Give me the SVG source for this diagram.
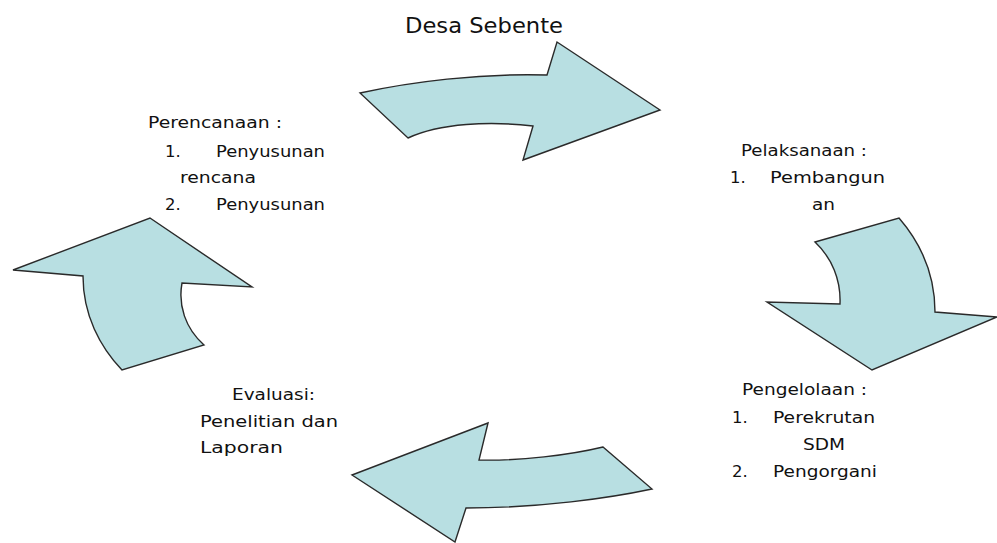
<svg xmlns="http://www.w3.org/2000/svg" width="997" height="543" viewBox="0 0 997 543">
  <style>
    .t { font-family: "DejaVu Sans", Verdana, sans-serif; font-size: 16.5px; fill: #111; }
    .title { font-family: "DejaVu Sans", Verdana, sans-serif; font-size: 21px; fill: #111; }
    .arrow { fill: #b8dfe2; stroke: #2a2a2a; stroke-width: 1.4; stroke-linejoin: miter; }
  </style>
  <rect width="997" height="543" fill="#ffffff"/>

  <g id="title">
    <text class="title" x="405" y="33" textLength="158" lengthAdjust="spacingAndGlyphs">Desa Sebente</text>
  </g>

  <g id="connectors">
    <path id="arrow-top" class="arrow" d="M360,93 C410,82 480,73 547,75 L557,42 L660,110 L523,160 L533,126 C490,121 440,123 408,138 Z"/>
    <path id="arrow-right" class="arrow" d="M815,242 L899,218 C918,240 935,270 935,312 L997,317 L872,370 L767,302 L840,304 C841,280 832,258 815,242 Z"/>
    <path id="arrow-bottom" class="arrow" d="M488,423 L479,460 C520,461 570,455 603,447 L652,489 C610,498 540,508 466,508 L455,542 L352,475 Z"/>
    <path id="arrow-left" class="arrow" d="M150,218 L252,287 L182,283 C178,305 185,328 204,345 L122,370 C100,347 83,315 83,276 L13,270 Z"/>
  </g>

  <g id="perencanaan">
    <text class="t" x="148" y="128" textLength="134" lengthAdjust="spacingAndGlyphs">Perencanaan :</text>
    <text class="t" x="165" y="157">1.</text>
    <text class="t" x="216" y="157" textLength="109" lengthAdjust="spacingAndGlyphs">Penyusunan</text>
    <text class="t" x="180" y="183" textLength="76" lengthAdjust="spacingAndGlyphs">rencana</text>
    <text class="t" x="165" y="210">2.</text>
    <text class="t" x="216" y="210" textLength="109" lengthAdjust="spacingAndGlyphs">Penyusunan</text>
  </g>

  <g id="pelaksanaan">
    <text class="t" x="741" y="156" textLength="126" lengthAdjust="spacingAndGlyphs">Pelaksanaan :</text>
    <text class="t" x="730" y="183">1.</text>
    <text class="t" x="770" y="183" textLength="115" lengthAdjust="spacingAndGlyphs">Pembangun</text>
    <text class="t" x="812" y="210" textLength="23" lengthAdjust="spacingAndGlyphs">an</text>
  </g>

  <g id="pengelolaan">
    <text class="t" x="742" y="395" textLength="125" lengthAdjust="spacingAndGlyphs">Pengelolaan :</text>
    <text class="t" x="732" y="423">1.</text>
    <text class="t" x="773" y="423" textLength="102" lengthAdjust="spacingAndGlyphs">Perekrutan</text>
    <text class="t" x="803" y="450" textLength="42" lengthAdjust="spacingAndGlyphs">SDM</text>
    <text class="t" x="732" y="477">2.</text>
    <text class="t" x="773" y="477" textLength="104" lengthAdjust="spacingAndGlyphs">Pengorgani</text>
  </g>

  <g id="evaluasi">
    <text class="t" x="232" y="400" textLength="83" lengthAdjust="spacingAndGlyphs">Evaluasi:</text>
    <text class="t" x="200" y="427" textLength="138" lengthAdjust="spacingAndGlyphs">Penelitian dan</text>
    <text class="t" x="200" y="453" textLength="83" lengthAdjust="spacingAndGlyphs">Laporan</text>
  </g>
</svg>
